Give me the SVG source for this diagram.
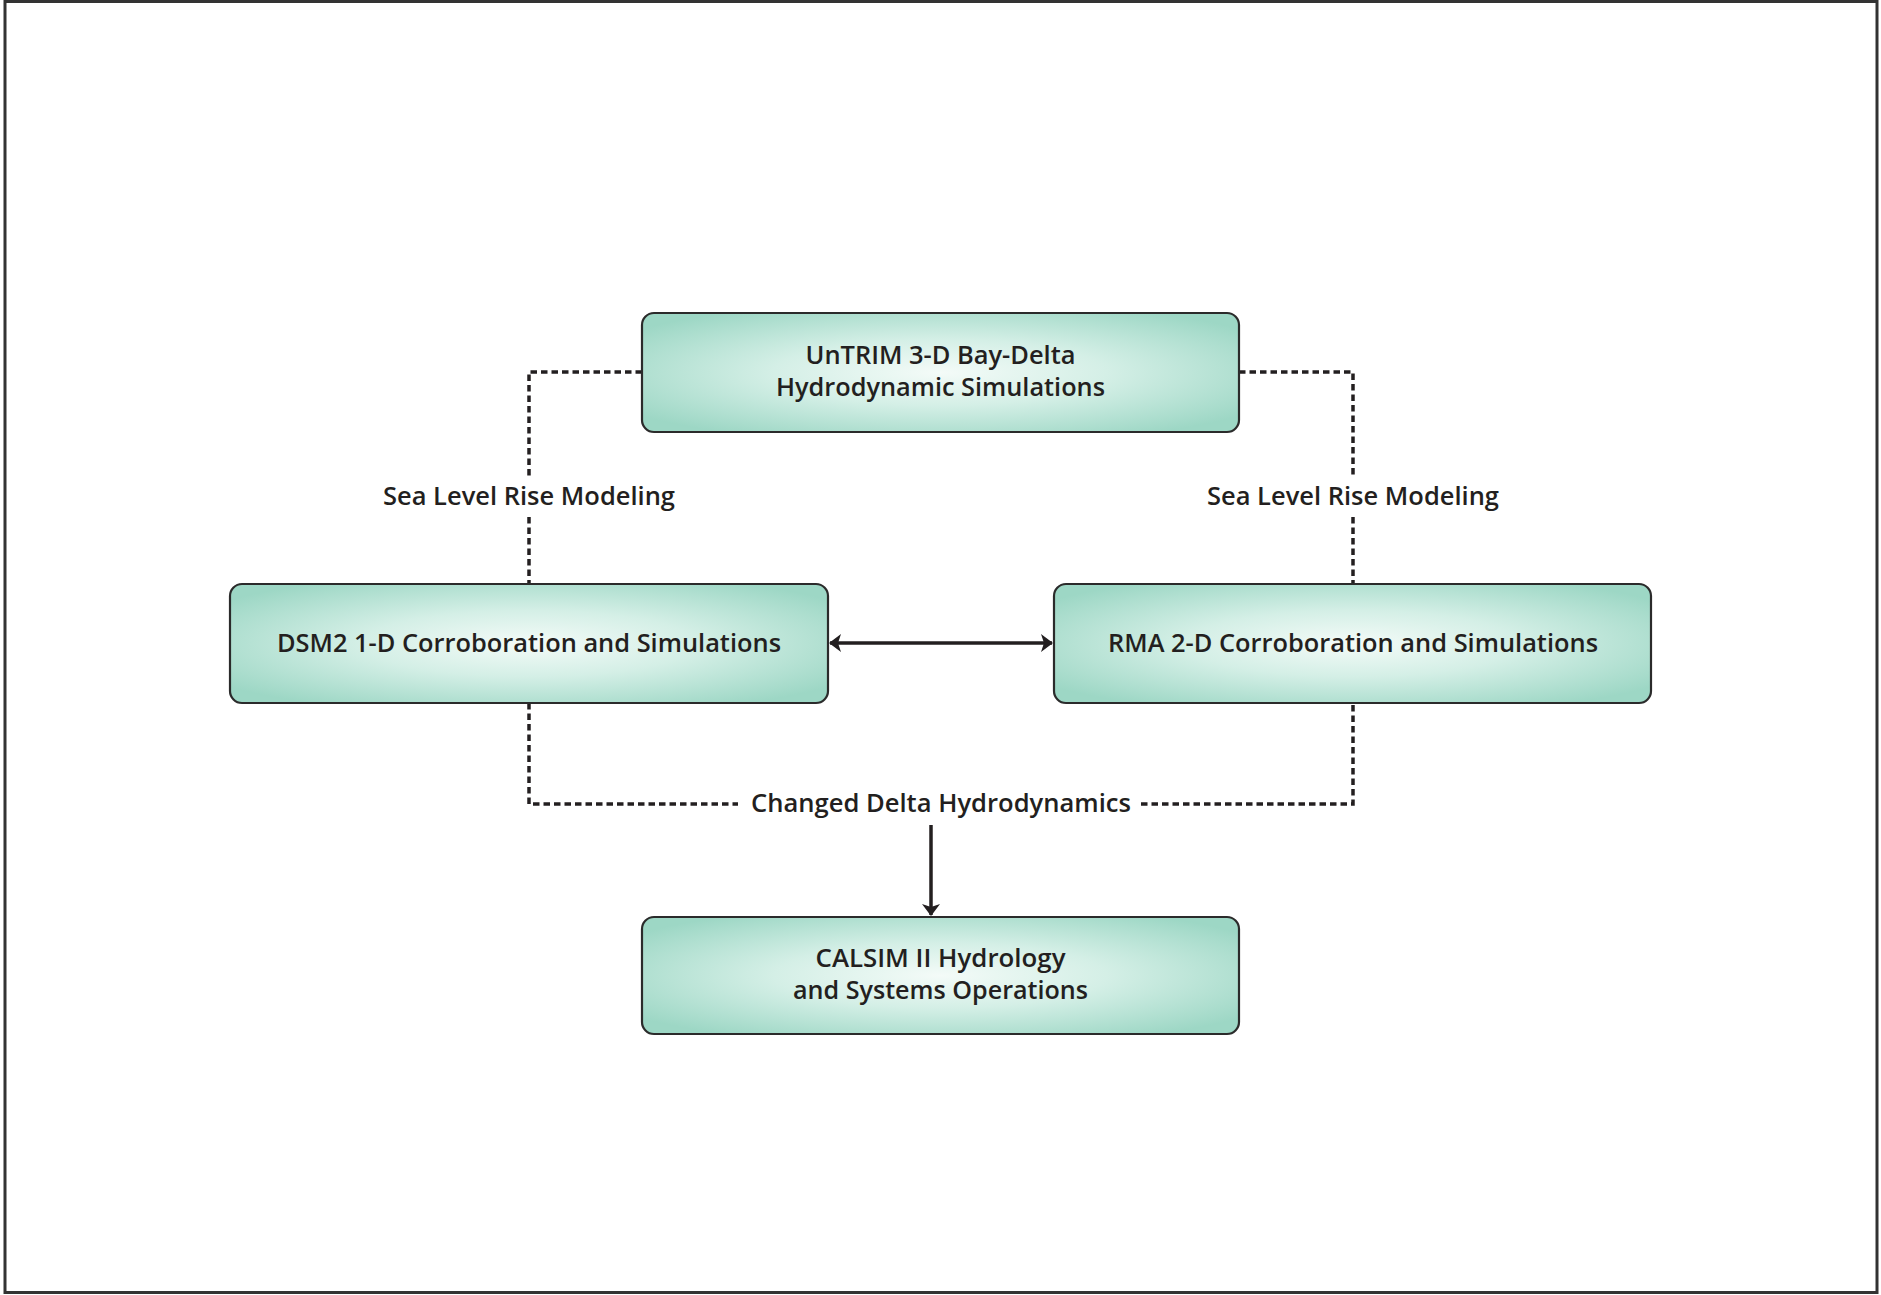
<svg xmlns="http://www.w3.org/2000/svg" width="1881" height="1295" viewBox="0 0 1881 1295">
<defs>
<radialGradient id="boxfill" cx="0.5" cy="0.5" r="0.62">
<stop offset="0" stop-color="#f4fbf8"/>
<stop offset="0.45" stop-color="#d4efe6"/>
<stop offset="1" stop-color="#9dd7c5"/>
</radialGradient>
<marker id="ah" viewBox="0 0 12 18" refX="11" refY="9" markerWidth="12" markerHeight="18" markerUnits="userSpaceOnUse" orient="auto-start-reverse">
<path d="M0,0 L12,9 L0,18 L3,9 Z" fill="#231f20"/>
</marker>
</defs>
<style>
.box{fill:url(#boxfill);stroke:#2b2b2b;stroke-width:2.2}
.t{font-family:"Open Sans","Liberation Sans",sans-serif;font-weight:600;font-size:25px;fill:#231f20;text-anchor:middle}
.dash{fill:none;stroke:#231f20;stroke-width:3.5;stroke-dasharray:6.5 4}
.solid{fill:none;stroke:#231f20;stroke-width:3.5}
</style>
<rect x="5" y="1.5" width="1872" height="1291" fill="#ffffff" stroke="#333333" stroke-width="3"/>
<g id="connectors">
<path class="dash" d="M642,372 H529 V478"/>
<path class="dash" d="M529,517 V584"/>
<path class="dash" d="M1239,372 H1353 V478"/>
<path class="dash" d="M1353,517 V584"/>
<path class="dash" d="M529,703 V804 H738"/>
<path class="dash" d="M1141,804 H1353 V703"/>
<line class="solid" x1="830" y1="643" x2="1052" y2="643" marker-start="url(#ah)" marker-end="url(#ah)"/>
<line class="solid" x1="931" y1="825" x2="931" y2="915" marker-end="url(#ah)"/>
<text class="t" x="529" y="505" textLength="292" lengthAdjust="spacingAndGlyphs">Sea Level Rise Modeling</text>
<text class="t" x="1353" y="505" textLength="292" lengthAdjust="spacingAndGlyphs">Sea Level Rise Modeling</text>
<text class="t" x="941" y="812" textLength="380" lengthAdjust="spacingAndGlyphs">Changed Delta Hydrodynamics</text>
</g>
<g id="untrim">
<rect class="box" x="642" y="313" width="597" height="119" rx="12"/>
<text class="t" x="940.5" y="364" textLength="270" lengthAdjust="spacingAndGlyphs">UnTRIM 3-D Bay-Delta</text>
<text class="t" x="940.5" y="396" textLength="329" lengthAdjust="spacingAndGlyphs">Hydrodynamic Simulations</text>
</g>
<g id="dsm2">
<rect class="box" x="230" y="584" width="598" height="119" rx="12"/>
<text class="t" x="529" y="652" textLength="504" lengthAdjust="spacingAndGlyphs">DSM2 1-D Corroboration and Simulations</text>
</g>
<g id="rma">
<rect class="box" x="1054" y="584" width="597" height="119" rx="12"/>
<text class="t" x="1353" y="652" textLength="490" lengthAdjust="spacingAndGlyphs">RMA 2-D Corroboration and Simulations</text>
</g>
<g id="calsim">
<rect class="box" x="642" y="917" width="597" height="117" rx="12"/>
<text class="t" x="940.5" y="967" textLength="250" lengthAdjust="spacingAndGlyphs">CALSIM II Hydrology</text>
<text class="t" x="940.5" y="999" textLength="295" lengthAdjust="spacingAndGlyphs">and Systems Operations</text>
</g>
</svg>
